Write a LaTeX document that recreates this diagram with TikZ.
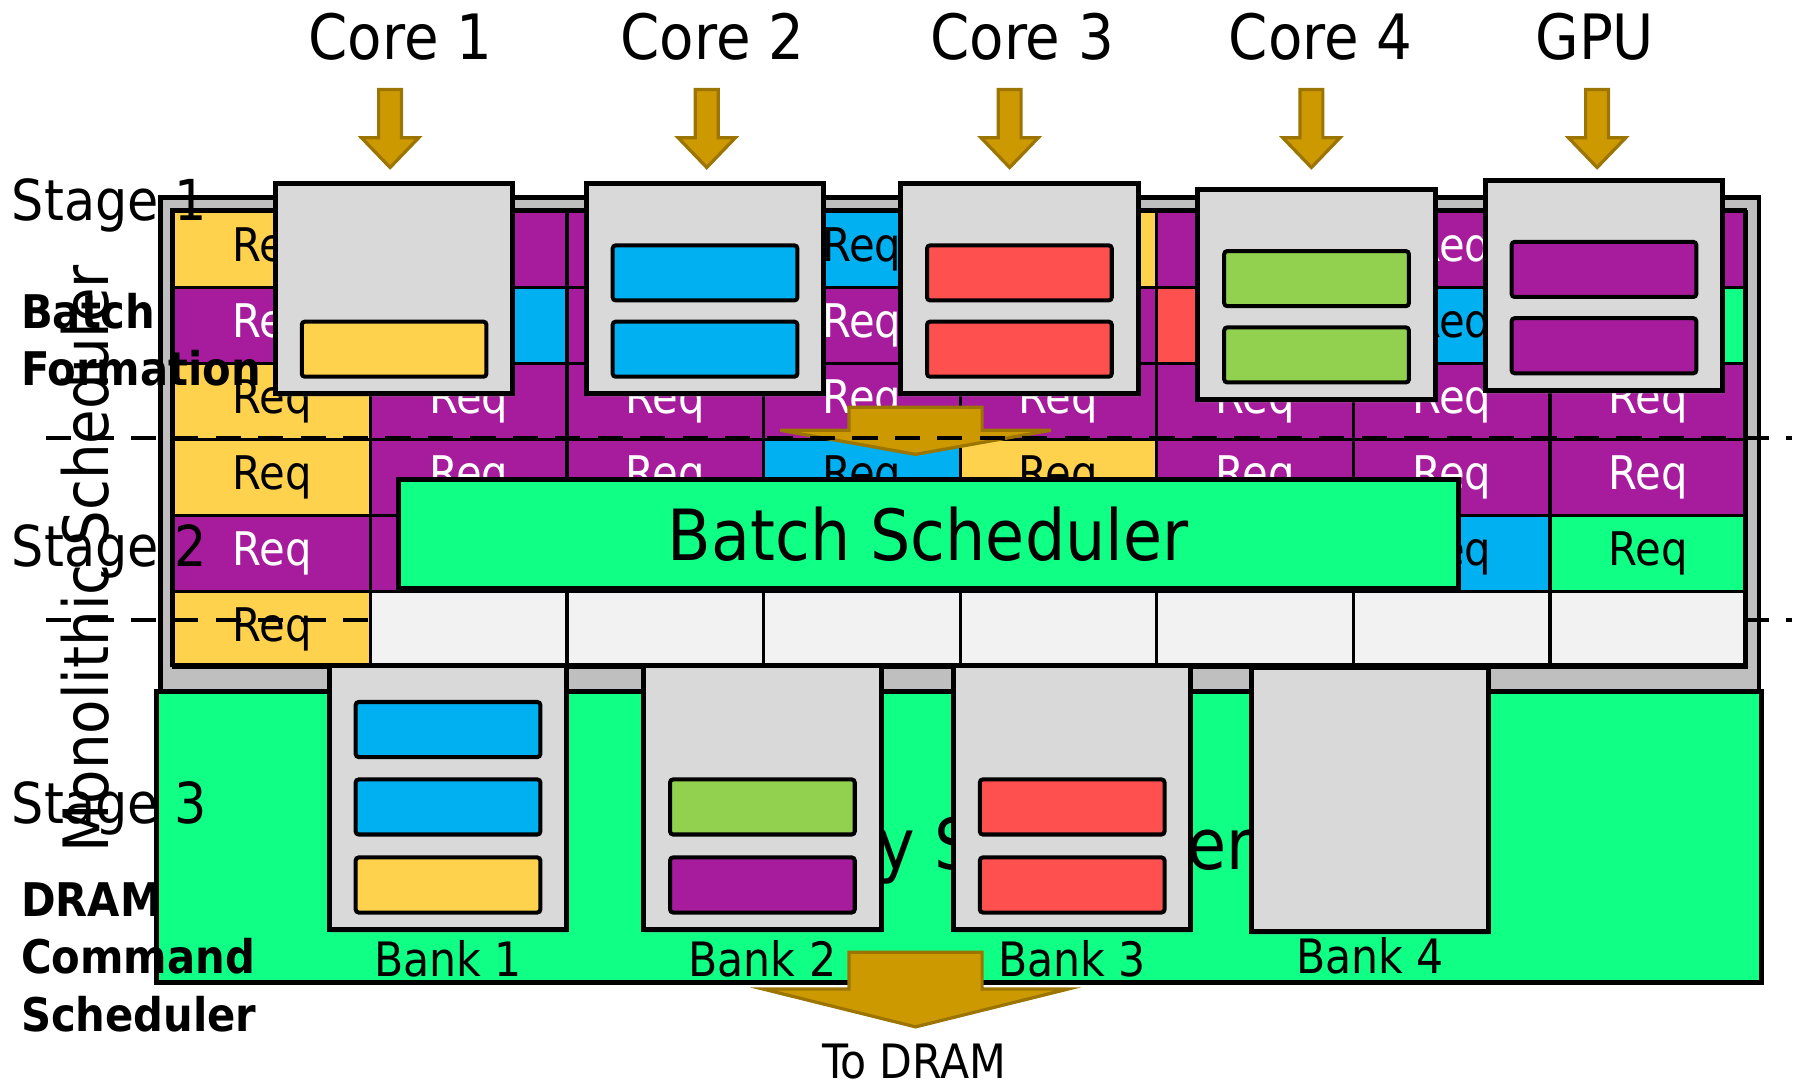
\documentclass[tikz,border=0pt]{standalone}
\usepackage{fontspec}
\setmainfont{DejaVu Sans Condensed}
\usetikzlibrary{positioning,shadows}

\definecolor{reqyel}{HTML}{FFD24D}
\definecolor{reqpur}{HTML}{A61C9C}
\definecolor{reqblu}{HTML}{00B0F0}
\definecolor{reqred}{HTML}{FF5050}
\definecolor{reqgrn}{HTML}{10FF85}
\definecolor{reqlim}{HTML}{92D050}
\definecolor{boxgray}{HTML}{D9D9D9}
\definecolor{slotgray}{HTML}{F2F2F2}
\definecolor{framegray}{HTML}{BFBFBF}
\definecolor{gold}{HTML}{CC9900}
\definecolor{darkgold}{HTML}{9C7400}

\begin{document}
\begin{tikzpicture}[
        x=0.02cm, y=-0.02cm,
        cell/.style 2 args={draw, line width=1.6pt, fill=#1, text=#2, anchor=north west, inner sep=0, minimum width=3.4275cm, minimum height=1.324cm, font=\fontsize{23}{25}\selectfont},
        queue/.style={draw, line width=2.4pt, fill=boxgray, inner sep=0, minimum width=4.14cm, minimum height=3.66cm, drop shadow={shadow xshift=0.6pt, shadow yshift=-1.8pt, opacity=0.3}},
        bank/.style={queue, minimum height=4.6cm},
        bar/.style={draw, line width=2pt, rounded corners=1.5pt, fill=#1, inner sep=0, minimum width=3.22cm, minimum height=0.96cm},
        goldarrow/.style={fill=gold, draw=darkgold, line width=1.6pt},
        biglbl/.style={inner sep=0, font=\fontsize{31}{31}\selectfont},
        stagelbl/.style={inner sep=0, anchor=base west, font=\fontsize{28}{28}\selectfont},
        banklbl/.style={inner sep=0, font=\fontsize{23.5}{23.5}\selectfont},
        boldlbl/.style={inner sep=0, anchor=north west, align=left, font=\fontsize{23}{28.5}\selectfont\bfseries},
        dashline/.style={line width=2pt, dash pattern=on 0.44cm off 0.3cm}
    ]
        \useasboundingbox (0,0) rectangle (1568,948);

        % Monolithic scheduler frame
        \draw[fill=framegray, line width=2.2pt] (140,172) rectangle (1533,605);

        % Request buffer
        \foreach \f/\t [count=\k] in {reqyel/black, reqpur/white, reqpur/white, reqblu/black, reqyel/black, reqpur/white, reqpur/white, reqpur/white}
            \node[cell={\f}{\t}] (r1c\k) at ({150+171.375*(\k-1)},183) {Req};
        \foreach \f/\t [count=\k] in {reqpur/white, reqblu/black, reqpur/white, reqpur/white, reqpur/white, reqred/black, reqblu/black, reqgrn/black}
            \node[cell={\f}{\t}] (r2c\k) at ({150+171.375*(\k-1)},249.2) {Req};
        \foreach \f/\t [count=\k] in {reqyel/black, reqpur/white, reqpur/white, reqpur/white, reqpur/white, reqpur/white, reqpur/white, reqpur/white}
            \node[cell={\f}{\t}] (r3c\k) at ({150+171.375*(\k-1)},315.3) {Req};
        \foreach \f/\t [count=\k] in {reqyel/black, reqpur/white, reqpur/white, reqblu/black, reqyel/black, reqpur/white, reqpur/white, reqpur/white}
            \node[cell={\f}{\t}] (r4c\k) at ({150+171.375*(\k-1)},381.5) {Req};
        \foreach \f/\t [count=\k] in {reqpur/white, reqpur/white, reqpur/white, reqpur/white, reqpur/white, reqpur/white, reqblu/black, reqgrn/black}
            \node[cell={\f}{\t}] (r5c\k) at ({150+171.375*(\k-1)},447.7) {Req};
        \node[cell={reqyel}{black}] (r6c1) at (150,513.8) {Req};

        % Batch arrow
        \draw[goldarrow] (740,355) -- (856,355) -- (856,375) -- (916,375) -- (798,396) -- (680,375) -- (740,375) -- cycle;

        % Stage borders
        \draw[dashline] (40,382) -- (1562,382);
        \draw[dashline] (40,540) -- (1562,540);

        % Empty slots
        \foreach \k in {2,...,8}
            \node[cell={slotgray}{black}] (r6c\k) at ({150+171.375*(\k-1)},513.8) {};
        \draw[line width=2pt] (150,183) rectangle (1521,580);

        % Sources
        \node[biglbl] (lbl1) at (349,32) {Core 1};
        \node[biglbl] (lbl2) at (621,32) {Core 2};
        \node[biglbl] (lbl3) at (891,32) {Core 3};
        \node[biglbl] (lbl4) at (1151,32) {Core 4};
        \node[biglbl] (lbl5) at (1390,32) {GPU};
        \foreach \x in {340,616,880,1143,1392}
            \draw[goldarrow] (\x-10,78) -- (\x+10,78) -- (\x+10,120) -- (\x+25,120) -- (\x,146) -- (\x-25,120) -- (\x-10,120) -- cycle;

        % Per-source queues
        \node[queue] (core1) at (343.5,251.5) {};
        \node[bar=reqyel, above=0.3cm of core1.south] (core1a) {};

        \node[queue] (core2) at (614.5,251.5) {};
        \node[bar=reqblu, above=0.3cm of core2.south] (core2a) {};
        \node[bar=reqblu, above=0.3cm of core2a] (core2b) {};

        \node[queue] (core3) at (888.5,251.5) {};
        \node[bar=reqred, above=0.3cm of core3.south] (core3a) {};
        \node[bar=reqred, above=0.3cm of core3a] (core3b) {};

        \node[queue] (core4) at (1147.5,256.5) {};
        \node[bar=reqlim, above=0.3cm of core4.south] (core4a) {};
        \node[bar=reqlim, above=0.3cm of core4a] (core4b) {};

        \node[queue] (gpu) at (1398,248.5) {};
        \node[bar=reqpur, above=0.3cm of gpu.south] (gpua) {};
        \node[bar=reqpur, above=0.3cm of gpua] (gpub) {};

        % Batch scheduler
        \node[draw, line width=2.4pt, fill=reqgrn, inner sep=0, minimum width=18.48cm, minimum height=1.9cm, font=\fontsize{35}{35}\selectfont] (batch) at (809,465.5) {Batch Scheduler};

        % DRAM command scheduler
        \draw[fill=reqgrn, line width=2.5pt] (136,603) rectangle (1535,856);
        \node[inner sep=0, anchor=base, font=\fontsize{35}{35}\selectfont] (memsched) at (832,758) {Memory Scheduler};

        % Banks
        \node[bank] (bank1) at (390.5,695) {};
        \node[bar=reqyel, above=0.3cm of bank1.south] (bank1a) {};
        \node[bar=reqblu, above=0.33cm of bank1a] (bank1b) {};
        \node[bar=reqblu, above=0.32cm of bank1b] (bank1c) {};
        \node[banklbl, below=0.14cm of bank1] (blbl1) {Bank 1};

        \node[bank] (bank2) at (664.5,695) {};
        \node[bar=reqpur, above=0.3cm of bank2.south] (bank2a) {};
        \node[bar=reqlim, above=0.33cm of bank2a] (bank2b) {};
        \node[banklbl, below=0.14cm of bank2] (blbl2) {Bank 2};

        \node[bank] (bank3) at (934.5,695) {};
        \node[bar=reqred, above=0.3cm of bank3.south] (bank3a) {};
        \node[bar=reqred, above=0.33cm of bank3a] (bank3b) {};
        \node[banklbl, below=0.14cm of bank3] (blbl3) {Bank 3};

        \node[bank] (bank4) at (1194,697) {};
        \node[banklbl, below=0.06cm of bank4] (blbl4) {Bank 4};

        % To DRAM
        \draw[goldarrow] (740,830) -- (856,830) -- (856,862) -- (931,862) -- (798,895) -- (665,862) -- (740,862) -- cycle;
        \node[banklbl] (todram) at (797,925) {To DRAM};

        % Stage labels
        \node[stagelbl] (stage1) at (10,192) {Stage 1};
        \node[stagelbl] (stage2) at (10,494) {Stage 2};
        \node[stagelbl] (stage3) at (10,718) {Stage 3};
        \node[boldlbl] (batchform) at (18,255) {Batch\\Formation};
        \node[boldlbl] (dramcmd) at (18,769) {DRAM\\Command\\Scheduler};
        \node[biglbl, rotate=90] (mono) at (74,487) {Monolithic Scheduler};

    \end{tikzpicture}
\end{document}
